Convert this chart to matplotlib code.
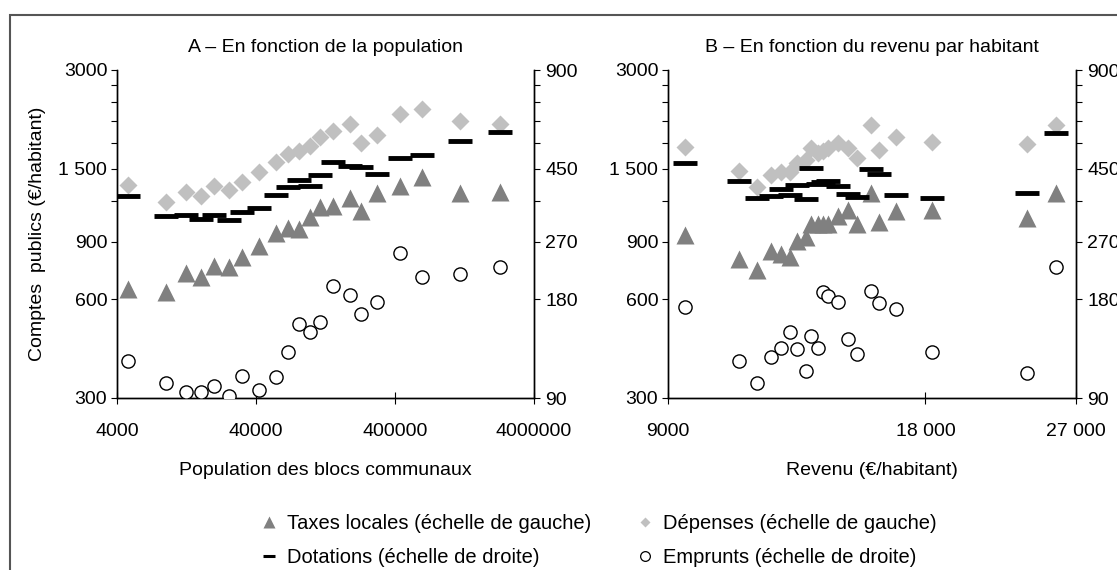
import matplotlib
matplotlib.use('Agg')
import matplotlib.pyplot as plt
from matplotlib.lines import Line2D
from matplotlib.patches import Rectangle
from matplotlib.ticker import NullLocator

plt.rcParams['font.family'] = ['Liberation Sans', 'DejaVu Sans']
plt.rcParams['font.size'] = 14

# Panel A : population (x) and four series
pop = [4830, 9000, 12560, 16100, 20050, 25570, 31850, 42340, 55880, 67960, 82150,
       98200, 115900, 144300, 188500, 227700, 299300, 431600, 624000, 1169000, 2271000]
taxes_a = [645, 631, 721, 700, 756, 750, 810, 873, 958, 991, 980,
           1070, 1148, 1158, 1222, 1113, 1265, 1325, 1420, 1265, 1271]
depenses_a = [1340, 1186, 1271, 1236, 1325, 1289, 1362, 1462, 1577, 1663, 1703,
              1759, 1868, 1952, 2050, 1800, 1899, 2208, 2280, 2098, 2050]
dotations_a = [371, 323, 325, 317, 326, 314, 332, 341, 375, 396, 417,
               399, 431, 471, 460, 454, 435, 485, 495, 546, 582]
emprunts_a = [117, 100, 94, 94, 98, 91, 105, 95, 104, 124, 151,
              143, 153, 198, 186, 162, 176, 249, 211, 215, 225]

# Panel B : revenu par habitant (x) and four series
revenu = [9415, 10904, 11451, 11876, 12200, 12484, 12739, 13046, 13236, 13480, 13662,
          13847, 14224, 14597, 14952, 15551, 15882, 16647, 18306, 23652, 25614]
taxes_b = [940, 795, 738, 843, 824, 805, 904, 931, 1015, 1015, 1015,
           1015, 1075, 1121, 1015, 1265, 1031, 1113, 1126, 1063, 1265]
depenses_b = [1751, 1481, 1319, 1437, 1461, 1471, 1559, 1595, 1731, 1672, 1700,
              1731, 1792, 1731, 1614, 2036, 1711, 1868, 1813, 1783, 2036]
dotations_b = [470, 414, 367, 371, 391, 373, 402, 365, 452, 405, 409,
               414, 400, 378, 369, 450, 434, 373, 367, 380, 580]
emprunts_b = [170, 117, 100, 120, 128, 143, 127, 109, 139, 128, 189,
              184, 176, 136, 123, 191, 175, 168, 124, 107, 225]

left_ticks = [300, 600, 900, 1200, 1500, 1800, 2100, 2400, 2700, 3000]
left_labels = ['300', '600', '900', '', '1 500', '', '', '', '', '3000']
right_ticks = [90, 180, 270, 360, 450, 540, 630, 720, 810, 900]
right_labels = ['90', '180', '270', '', '450', '', '', '', '', '900']

W, H = 1117, 570
fig = plt.figure(figsize=(W / 100, H / 100), dpi=100)

# outer frame (cropped on the right and bottom)
fig.add_artist(Rectangle((10 / W, -0.1), 1.2, 1 - 15 / H + 0.1, transform=fig.transFigure,
                         fill=False, edgecolor='#555555', lw=1.5, clip_on=False))

TRI = '#808080'
DIA = '#c0c0c0'


def panel(rect, x, taxes, depenses, dotations, emprunts, xlim, xticks, xlabels, title, xlabel):
    ax = fig.add_axes(rect)
    ax2 = ax.twinx()
    ax.set_xscale('log')
    ax.set_yscale('log')
    ax2.set_yscale('log')

    ax.plot(x, depenses, 'D', color=DIA, ms=9, mec='none', zorder=2)
    ax.plot(x, taxes, '^', color=TRI, ms=13, mec='none', zorder=3)
    ax2.plot(x, dotations, '_', color='black', ms=17, mew=3.5, zorder=3)
    ax2.plot(x, emprunts, 'o', mfc='white', mec='black', ms=9.5, mew=1, zorder=4)

    ax.set_xlim(*xlim)
    ax.set_ylim(300, 3000)
    ax2.set_ylim(90, 900)
    ax.set_xticks(xticks, labels=xlabels)
    ax.xaxis.set_minor_locator(NullLocator())
    ax.set_yticks(left_ticks, labels=left_labels)
    ax.yaxis.set_minor_locator(NullLocator())
    ax2.set_yticks(right_ticks, labels=right_labels)
    ax2.yaxis.set_minor_locator(NullLocator())

    for a in (ax, ax2):
        a.spines['top'].set_visible(False)
        for s in a.spines.values():
            s.set_linewidth(1)
    ax.tick_params(axis='y', direction='out', length=4, pad=3)
    ax2.tick_params(axis='y', direction='out', length=4, pad=4)
    ax.tick_params(axis='x', direction='inout', length=8, pad=14)
    ax.set_title(title, fontsize=14, pad=13)
    ax.set_xlabel(xlabel, labelpad=16)
    return ax


axA = panel([117 / W, 1 - 398 / H, 417 / W, 328 / H], pop, taxes_a, depenses_a, dotations_a, emprunts_a,
            (4000, 4000000), [4000, 40000, 400000, 4000000], ['4000', '40000', '400000', '4000000'],
            'A – En fonction de la population', 'Population des blocs communaux')
axA.set_ylabel('Comptes  publics (€/habitant)')
axA.yaxis.set_label_coords(-0.17, 0.5)

axB = panel([668 / W, 1 - 398 / H, 408 / W, 328 / H], revenu, taxes_b, depenses_b, dotations_b, emprunts_b,
            (9000, 27000), [9000, 18000, 27000], ['9000', '18 000', '27 000'],
            'B – En fonction du revenu par habitant', 'Revenu (€/habitant)')

handles = [
    Line2D([], [], ls='none', marker='^', color=TRI, ms=8, mec='none'),
    Line2D([], [], ls='none', marker='_', color='black', ms=8, mew=2.2),
    Line2D([], [], ls='none', marker='D', color=DIA, ms=5.5, mec='none'),
    Line2D([], [], ls='none', marker='o', mfc='white', mec='black', ms=7, mew=0.9),
]
labels = ['Taxes locales (échelle de gauche)', 'Dotations (échelle de droite)',
          'Dépenses (échelle de gauche)', 'Emprunts (échelle de droite)']
fig.legend(handles, labels, ncol=2, frameon=False, loc='upper left',
           bbox_to_anchor=(241 / W, 1 - 496 / H), handlelength=1, handletextpad=0.4,
           columnspacing=2.15, labelspacing=0.75, fontsize=14.5)

fig.savefig('out.png', dpi=100)
